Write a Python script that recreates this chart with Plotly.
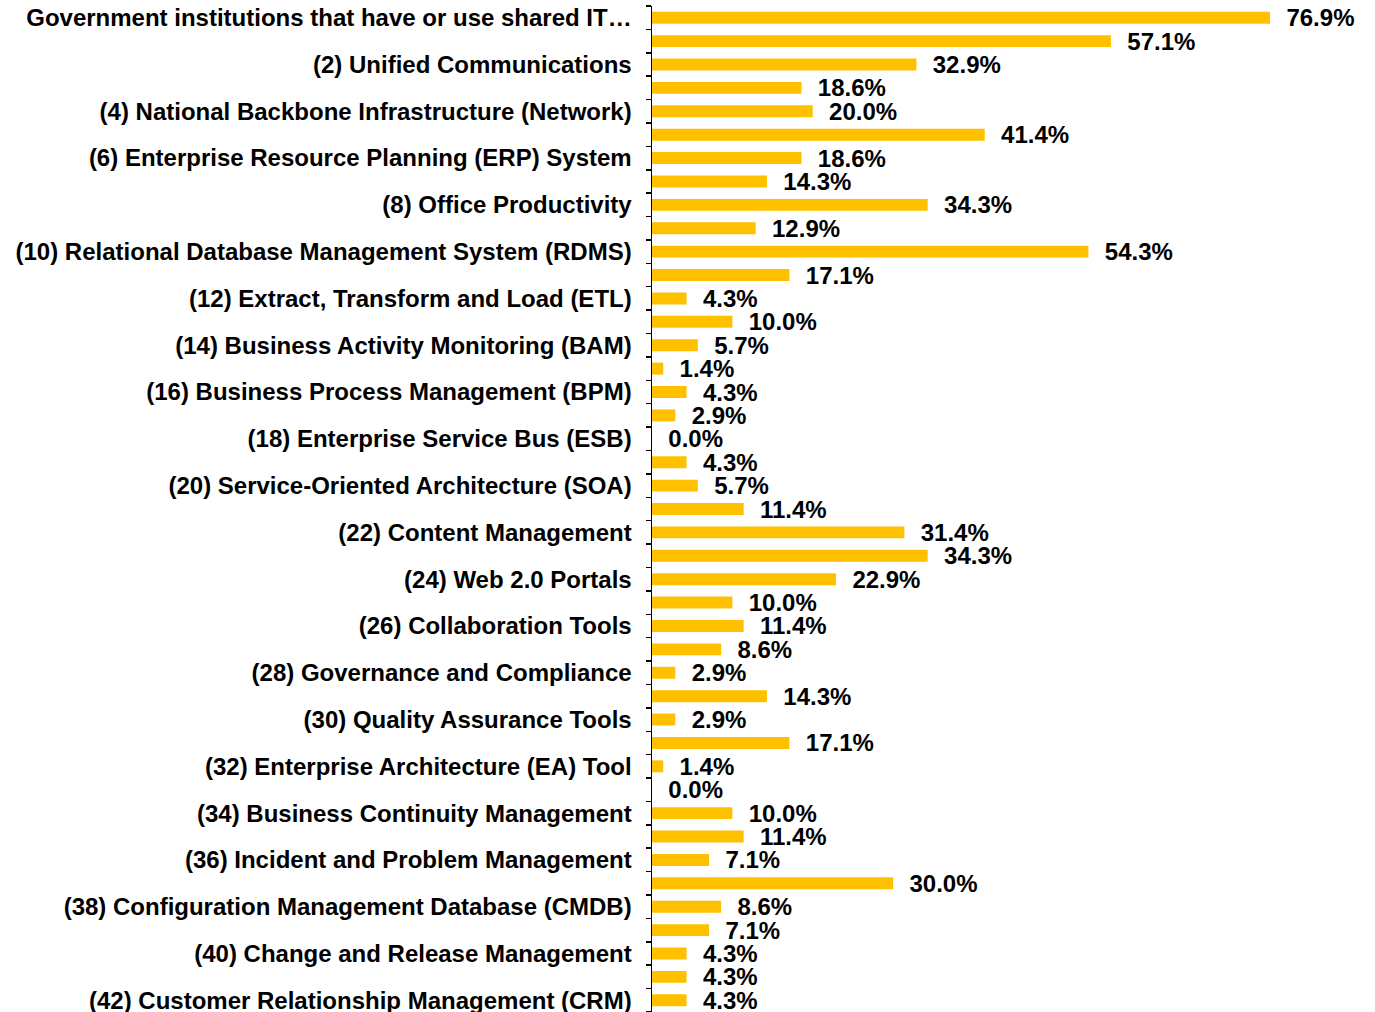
import plotly.graph_objects as go

categories = [
    "Government institutions that have or use shared IT…", "(1)",
    "(2) Unified Communications", "(3)",
    "(4) National Backbone Infrastructure (Network)", "(5)",
    "(6) Enterprise Resource Planning (ERP) System", "(7)",
    "(8) Office Productivity", "(9)",
    "(10) Relational Database Management System (RDMS)", "(11)",
    "(12) Extract, Transform and Load (ETL)", "(13)",
    "(14) Business Activity Monitoring (BAM)", "(15)",
    "(16) Business Process Management (BPM)", "(17)",
    "(18) Enterprise Service Bus (ESB)", "(19)",
    "(20) Service-Oriented Architecture (SOA)", "(21)",
    "(22) Content Management", "(23)",
    "(24) Web 2.0 Portals", "(25)",
    "(26) Collaboration Tools", "(27)",
    "(28) Governance and Compliance", "(29)",
    "(30) Quality Assurance Tools", "(31)",
    "(32) Enterprise Architecture (EA) Tool", "(33)",
    "(34) Business Continuity Management", "(35)",
    "(36) Incident and Problem Management", "(37)",
    "(38) Configuration Management Database (CMDB)", "(39)",
    "(40) Change and Release Management", "(41)",
    "(42) Customer Relationship Management (CRM)",
]

values = [
    76.9, 57.1, 32.9, 18.6, 20.0, 41.4, 18.6, 14.3, 34.3, 12.9,
    54.3, 17.1, 4.3, 10.0, 5.7, 1.4, 4.3, 2.9, 0.0, 4.3,
    5.7, 11.4, 31.4, 34.3, 22.9, 10.0, 11.4, 8.6, 2.9, 14.3,
    2.9, 17.1, 1.4, 0.0, 10.0, 11.4, 7.1, 30.0, 8.6, 7.1,
    4.3, 4.3, 4.3,
]

# only every other category label is shown
tick_labels = [c if i % 2 == 0 else "" for i, c in enumerate(categories)]

FONT = "Arial, 'Liberation Sans', sans-serif"

fig = go.Figure(
    go.Bar(
        x=values,
        y=categories,
        orientation="h",
        marker=dict(color="#FFC000", line=dict(width=0)),
        text=["\u00a0\u00a0" + f"{v:.1f}%" for v in values],
        textposition="outside",
        constraintext="none",
        cliponaxis=False,
        textfont=dict(family=FONT, size=24, color="black", weight="bold"),
        hoverinfo="skip",
    )
)

fig.update_layout(
    width=1375,
    height=1012,
    margin=dict(l=652, r=80, t=6, b=0, autoexpand=False),
    paper_bgcolor="white",
    plot_bgcolor="white",
    bargap=0.49,
    showlegend=False,
    font=dict(family=FONT, color="black"),
)

fig.update_xaxes(
    range=[0, 80],
    visible=False,
    showgrid=False,
    zeroline=False,
)

fig.update_yaxes(
    type="category",
    categoryorder="array",
    categoryarray=categories,
    range=[42.5, -0.5],
    tickmode="array",
    tickvals=categories,
    ticktext=tick_labels,
    tickson="boundaries",
    ticks="outside",
    ticklen=5,
    tickwidth=1.5,
    tickcolor="black",
    showline=True,
    linecolor="black",
    linewidth=1.5,
    showgrid=False,
    automargin=False,
    ticklabelstandoff=14,
    tickfont=dict(family=FONT, size=24, color="black", weight="bold"),
)

fig.write_html(
    "out.html",
    config={"displayModeBar": False, "staticPlot": True},
    post_script="document.body.style.margin='0';",
)
